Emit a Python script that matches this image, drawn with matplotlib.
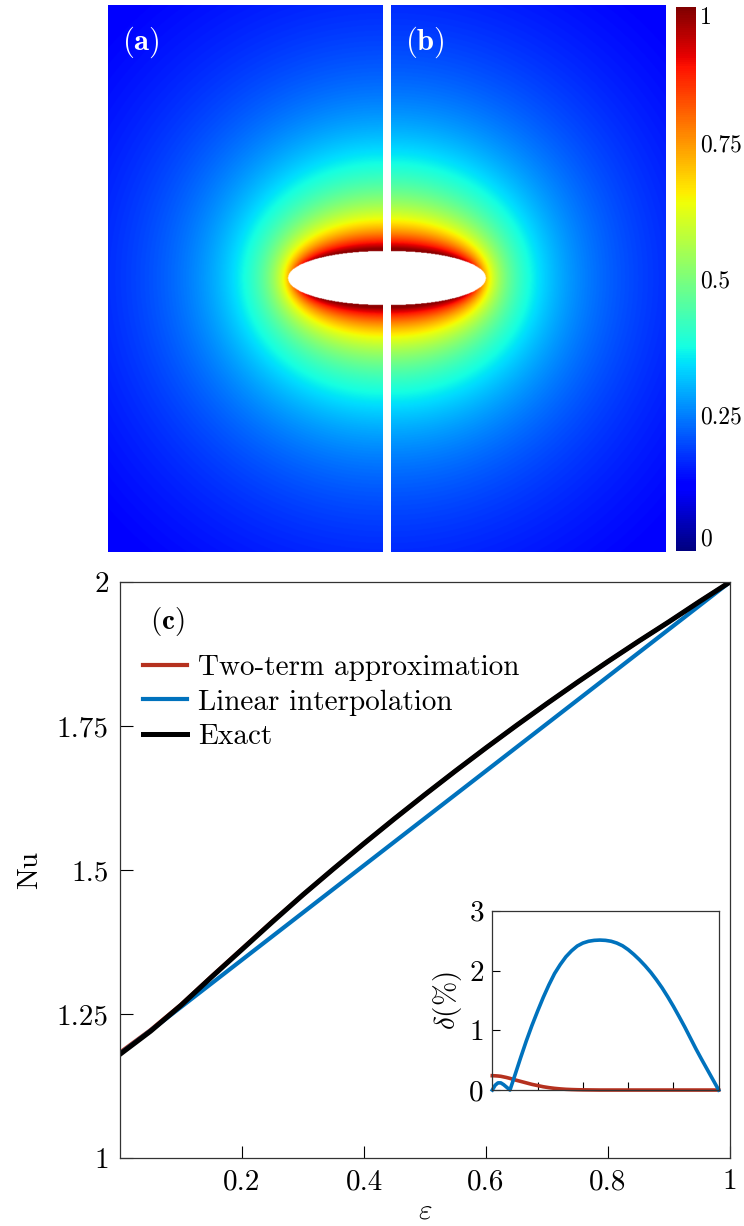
import numpy as np
import matplotlib
matplotlib.use('Agg')
import matplotlib.pyplot as plt

plt.rcParams['font.family'] = 'serif'
plt.rcParams['font.serif'] = ['cmr10']
plt.rcParams['mathtext.fontset'] = 'cm'
plt.rcParams['axes.formatter.use_mathtext'] = True
plt.rcParams['axes.unicode_minus'] = False

#%% data
# spheroid cross-section used for the field maps (a) and (b)
semi_a, semi_b = 1.0, 0.28          # white ellipse (mask)
body_a, body_b = 0.9, 0.30          # spheroid carrying T = 1
half_w, half_h = 2.9, 2.85          # half size of the shown domain

# (c) Nusselt number vs eps
eps = [0.00, 0.05, 0.10, 0.15, 0.20, 0.25, 0.30, 0.35, 0.40, 0.45, 0.50,
       0.55, 0.60, 0.65, 0.70, 0.75, 0.80, 0.85, 0.90, 0.95, 1.00]
nu_exact = [1.180, 1.220, 1.265, 1.314, 1.362, 1.410, 1.457, 1.502, 1.546, 1.589, 1.631,
            1.672, 1.712, 1.751, 1.789, 1.826, 1.862, 1.897, 1.931, 1.966, 2.000]
nu_linear = [1.181, 1.221, 1.262, 1.303, 1.344, 1.385, 1.426, 1.467, 1.508, 1.549, 1.590,
             1.631, 1.672, 1.713, 1.754, 1.795, 1.836, 1.877, 1.918, 1.959, 2.000]
nu_two_term = [1.183, 1.222, 1.266, 1.315, 1.363, 1.411, 1.457, 1.502, 1.546, 1.589, 1.631,
               1.672, 1.712, 1.751, 1.789, 1.826, 1.862, 1.897, 1.931, 1.966, 2.000]

# inset: relative error in %
eps_in = [0.0, 0.0125, 0.025, 0.0375, 0.05, 0.0625, 0.078, 0.1, 0.125, 0.15, 0.175,
          0.2, 0.225, 0.25, 0.275, 0.3, 0.325, 0.35, 0.375, 0.4, 0.425, 0.45, 0.475,
          0.5, 0.525, 0.55, 0.575, 0.6, 0.625, 0.65, 0.675, 0.7, 0.725, 0.75, 0.775,
          0.8, 0.825, 0.85, 0.875, 0.9, 0.925, 0.95, 0.975, 1.0]
delta_linear = [0.0, 0.08, 0.12, 0.12, 0.09, 0.05, 0.0, 0.25, 0.54, 0.82, 1.08,
                1.32, 1.55, 1.76, 1.95, 2.10, 2.23, 2.33, 2.41, 2.46, 2.49, 2.505, 2.51,
                2.505, 2.49, 2.46, 2.415, 2.35, 2.27, 2.18, 2.08, 1.97, 1.845, 1.71, 1.56,
                1.40, 1.23, 1.055, 0.87, 0.685, 0.51, 0.34, 0.17, 0.0]
delta_two_term = [0.24, 0.238, 0.235, 0.23, 0.22, 0.21, 0.195, 0.17, 0.145, 0.12, 0.095,
                  0.075, 0.055, 0.04, 0.028, 0.019, 0.012, 0.008, 0.005, 0.003, 0.002, 0.001, 0.0,
                  0.0, 0.0, 0.0, 0.0, 0.0, 0.0, 0.0, 0.0, 0.0, 0.0, 0.0, 0.0,
                  0.0, 0.0, 0.0, 0.0, 0.0, 0.0, 0.0, 0.0, 0.0]

red = '#b5311f'
blue = '#0072bd'
fs = 21

#%% field around the spheroid (prolate spheroidal coordinates)
def field(x0, x1, nx=500, ny=1000):
    x = np.linspace(x0, x1, nx)
    y = np.linspace(-half_h, half_h, ny)
    X, Y = np.meshgrid(x, y)
    c = np.sqrt(body_a**2 - body_b**2)
    r1 = np.hypot(X - c, Y)
    r2 = np.hypot(X + c, Y)
    xi = np.maximum((r1 + r2) / (2 * c), 1 + 1e-9)
    q0 = lambda s: 0.5 * np.log((s + 1) / (s - 1))
    T = np.minimum(q0(xi) / q0(body_a / c), 0.985)
    T[(X / semi_a)**2 + (Y / semi_b)**2 < 1] = np.nan
    return T

cmap = plt.get_cmap('jet').copy()
cmap.set_bad('white')

fig = plt.figure(figsize=(7.44, 12.26), dpi=100)

ax_a = fig.add_axes([0.1452, 0.5498, 0.3696, 0.4462])
ax_b = fig.add_axes([0.5255, 0.5498, 0.3683, 0.4462])
for ax, (x0, x1), lab in [(ax_a, (-half_w, 0), '(\\mathbf{a})'), (ax_b, (0, half_w), '(\\mathbf{b})')]:
    im = ax.imshow(field(x0, x1), extent=[x0, x1, -half_h, half_h], origin='lower',
                   cmap=cmap, vmin=0, vmax=1, aspect='auto', interpolation='bilinear')
    ax.axis('off')
    ax.text(0.05, 0.932, f'${lab}$', transform=ax.transAxes, color='white',
            fontsize=22, ha='left', va='center')

cax = fig.add_axes([0.9086, 0.5506, 0.0269, 0.4437])
cb = fig.colorbar(im, cax=cax, ticks=[0, 0.25, 0.5, 0.75, 1])
cb.outline.set_visible(False)
cb.ax.set_yticklabels(['0', '0.25', '0.5', '0.75', '1'])
cb.ax.tick_params(length=0, labelsize=17, pad=3)
labs = cb.ax.get_yticklabels()
labs[0].set_va('bottom')
labs[-1].set_va('top')

#%% (c)
ax = fig.add_axes([0.1613, 0.0555, 0.8199, 0.4698])
ax.plot(eps, nu_two_term, color=red, lw=3, label='Two-term approximation')
ax.plot(eps, nu_linear, color=blue, lw=3, label='Linear interpolation')
ax.plot(eps, nu_exact, color='k', lw=3.6, label='Exact')
ax.set_xlim(0, 1)
ax.set_ylim(1, 2)
ax.set_xticks([0.2, 0.4, 0.6, 0.8, 1])
ax.set_xticklabels(['0.2', '0.4', '0.6', '0.8', '1'])
ax.set_yticks([1, 1.25, 1.5, 1.75, 2])
ax.set_yticklabels(['1', '1.25', '1.5', '1.75', '2'])
ax.tick_params(direction='in', length=9, width=0.8, labelsize=fs, pad=8)
for s in ax.spines.values():
    s.set_linewidth(0.9)
    s.set_color('#333333')
ax.set_xlabel('$\\varepsilon$', fontsize=fs, labelpad=2)
ax.set_ylabel('Nu', fontsize=fs, labelpad=10)
ax.text(0.049, 0.931, '$(\\mathbf{c})$', transform=ax.transAxes, fontsize=fs,
        ha='left', va='center')
ax.legend(loc='upper left', bbox_to_anchor=(0.0377, 0.874), frameon=False, fontsize=fs,
          borderaxespad=0, borderpad=0, handlelength=1.5, handletextpad=0.38,
          labelspacing=0.28)

#%% inset
axi = fig.add_axes([0.6617, 0.1109, 0.3043, 0.1462])
axi.plot(eps_in, delta_two_term, color=red, lw=2.6, clip_on=False)
axi.plot(eps_in, delta_linear, color=blue, lw=2.6, clip_on=False)
axi.set_xlim(0, 1)
axi.set_ylim(0, 3)
axi.set_xticks([0.2, 0.4, 0.6, 0.8])
axi.set_xticklabels([])
axi.set_yticks([0, 1, 2, 3])
axi.set_yticklabels(['0', '1', '2', '3'])
axi.tick_params(direction='in', length=6, width=0.8, labelsize=fs, pad=6)
for s in axi.spines.values():
    s.set_linewidth(0.9)
    s.set_color('#333333')
axi.set_ylabel('$\\delta(\\%)$', fontsize=fs, labelpad=4)

fig.savefig('out.png', dpi=100)
